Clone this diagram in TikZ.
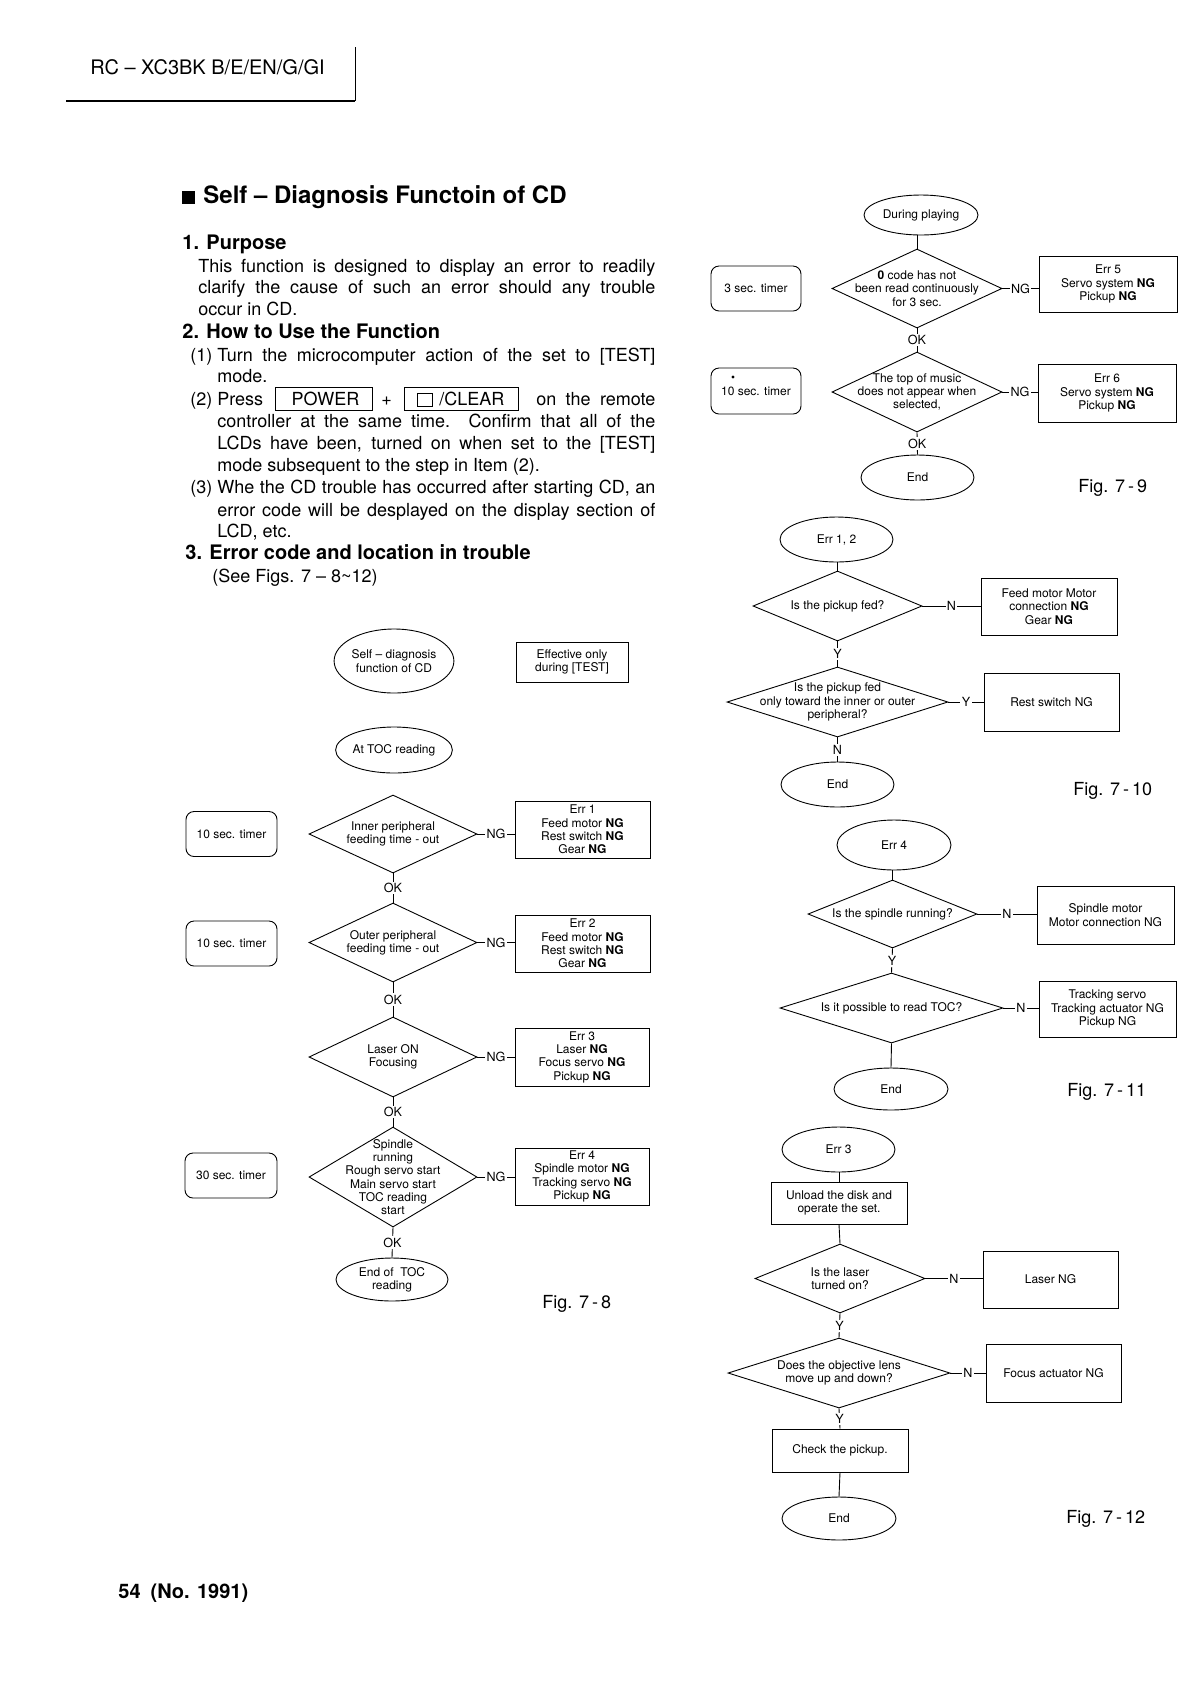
\documentclass[tikz,border=0pt]{standalone}
\usepackage{fontspec}
\setmainfont{TeX Gyre Heros}
\usetikzlibrary{shapes.geometric}
\tikzset{
 fc/.style={font=\fontsize{6}{6.65}\selectfont, align=center},
 box/.style={fc, draw, line width=0.45pt, inner sep=0.5pt},
 tbox/.style={box, rounded corners=4pt},
 oval/.style={fc, draw, ellipse, inner sep=0pt, line width=0.45pt},
 dia/.style={draw, diamond, inner sep=0pt, line width=0.45pt},
 dtxt/.style={fc, inner sep=0pt},
 lbl/.style={font=\fontsize{6.3}{7}\selectfont, fill=white, inner sep=0.7pt},
 conn/.style={line width=0.45pt},
 body/.style={font=\fontsize{9}{11}\selectfont, inner sep=0pt, anchor=base west},
 head/.style={font=\fontsize{10}{12}\selectfont\bfseries, inner sep=0pt, anchor=base west},
 figl/.style={font=\fontsize{9}{11}\selectfont, inner sep=0pt, anchor=base west},
 keybox/.style={draw, line width=0.5pt, inner sep=0pt},
}
\begin{document}
\begin{tikzpicture}[x=0.5pt,y=-0.5pt]
\useasboundingbox (0,0) rectangle (1191,1683);
% ---------- header ----------
\node[font=\fontsize{10}{12}\selectfont, inner sep=0pt, anchor=base west] (hdr) at (90,74) {RC – XC3BK B/E/EN/G/GI};
\coordinate (hl1) at (66,101);
\coordinate (hl2) at (355,101);
\coordinate (hv1) at (355,47);
\draw[line width=0.7pt] (hl1) -- (hl2);
\draw[line width=0.5pt] (hv1) -- (hl2);
% ---------- text ----------
\node[fill=black, minimum width=6.5pt, minimum height=6.5pt, inner sep=0pt] (sq) at (188.5,197) {};
\node[font=\fontsize{12}{14}\selectfont\bfseries, inner sep=0pt, anchor=base west] (title) at (203,203) {Self – Diagnosis Functoin of CD};
\node[head] (h1) at (182,249) {1. Purpose};
\node[body] (p1) at (198,272) {\makebox[228.5pt][s]{This function is designed to display an error to readily}};
\node[body] (p2) at (198,293.5) {\makebox[228.5pt][s]{clarify the cause of such an error should any trouble}};
\node[body] (p3) at (198,315) {occur in CD.};
\node[head] (h2) at (182,338) {2. How to Use the Function};
\node[body] (i1) at (190,361) {(1)};
\node[body] (i1a) at (217,361) {\makebox[219pt][s]{Turn the microcomputer action of the set to [TEST]}};
\node[body] (i1b) at (217,382) {mode.};
\node[body] (i2) at (190,405) {(2)};
\node[body] (i2a) at (217,405) {Press};
\node[keybox, minimum width=48.5pt, minimum height=11.5pt, font=\fontsize{9}{11}\selectfont] (kpow) at (323.5,398.5) {\hspace{2pt}POWER};
\node[body] (plus) at (381,405) {+};
\node[keybox, minimum width=57pt, minimum height=11.5pt] (kclr) at (461,398.5) {};
\node[keybox, minimum width=7.5pt, minimum height=6.5pt] (ksq) at (424.5,399.5) {};
\node[body] (clr) at (439,405) {/CLEAR};
\node[body] (i2b) at (536,405) {\makebox[59.5pt][s]{on the remote}};
\node[body] (i2c) at (217,427) {\makebox[219pt][s]{controller at the same time. Confirm that all of the}};
\node[body] (i2d) at (217,449) {\makebox[219pt][s]{LCDs have been, turned on when set to the [TEST]}};
\node[body] (i2e) at (217,471) {mode subsequent to the step in Item (2).};
\node[body] (i3) at (190,493) {(3)};
\node[body] (i3a) at (217,493) {\makebox[219pt][s]{Whe the CD trouble has occurred after starting CD, an}};
\node[body] (i3b) at (217,516) {\makebox[219pt][s]{error code will be desplayed on the display section of}};
\node[body] (i3c) at (217,537) {LCD, etc.};
\node[head] (h3) at (185,559) {3. Error code and location in trouble};
\node[body] (h3a) at (212,582) {(See Figs. 7 – 8\textasciitilde12)};
% ---------- Fig 7-8 ----------
\node[oval, minimum width=57pt, minimum height=32pt] (sd) at (394,661) {Self – diagnosis\\function of CD};
\node[box, minimum width=56pt, minimum height=20pt] (eff) at (572,662) {Effective only\\during [TEST]};
\node[oval, minimum width=57pt, minimum height=23pt] (toc) at (394,750) {At TOC reading};
\node[dia, minimum width=84pt, minimum height=39pt, label={[dtxt]center:{Inner peripheral\\feeding time - out}}] (d1) at (393,834) {};
\node[box, minimum width=67.5pt, minimum height=28.5pt] (e1) at (582.5,829.5) {Err 1\\Feed motor \textbf{NG}\\Rest switch \textbf{NG}\\Gear \textbf{NG}};
\node[tbox, minimum width=45.5pt, minimum height=22.5pt] (t1) at (231.5,834) {10 sec. timer};
\node[dia, minimum width=84pt, minimum height=39.5pt, label={[dtxt]center:{Outer peripheral\\feeding time - out}}] (d2) at (393,942.5) {};
\node[box, minimum width=67.5pt, minimum height=28.5pt] (e2) at (582.5,943.5) {Err 2\\Feed motor \textbf{NG}\\Rest switch \textbf{NG}\\Gear \textbf{NG}};
\node[tbox, minimum width=45.5pt, minimum height=22.5pt] (t2) at (231.5,943.5) {10 sec. timer};
\node[dia, minimum width=84pt, minimum height=40pt, label={[dtxt]center:{Laser ON\\Focusing}}] (d3) at (393,1057) {};
\node[box, minimum width=67pt, minimum height=29pt] (e3) at (582,1057) {Err 3\\Laser \textbf{NG}\\Focus servo \textbf{NG}\\Pickup \textbf{NG}};
\node[dia, minimum width=84pt, minimum height=50pt, label={[dtxt]center:{Spindle\\running\\Rough servo start\\Main servo start\\TOC reading\\start}}] (d4) at (393,1177) {};
\node[box, minimum width=67pt, minimum height=28.5pt] (e4) at (582,1176.5) {Err 4\\Spindle motor \textbf{NG}\\Tracking servo \textbf{NG}\\Pickup \textbf{NG}};
\node[tbox, minimum width=46pt, minimum height=22.5pt] (t3) at (231,1175.5) {30 sec. timer};
\node[oval, minimum width=56pt, minimum height=21.5pt] (end8) at (392,1279.5) {End of \ TOC\\reading};
\node[figl] (fig8) at (542,1308) {Fig. 7\,-\,8};
\draw[conn] (d1.south) -- node[lbl]{OK} (d2.north);
\draw[conn] (d2.south) -- node[lbl]{OK} (d3.north);
\draw[conn] (d3.south) -- node[lbl]{OK} (d4.north);
\draw[conn] (d4.south) -- node[lbl]{OK} (end8.north);
\draw[conn] (d1.east) -- node[lbl]{NG} (d1.east -| e1.west);
\draw[conn] (d2.east) -- node[lbl]{NG} (d2.east -| e2.west);
\draw[conn] (d3.east) -- node[lbl]{NG} (d3.east -| e3.west);
\draw[conn] (d4.east) -- node[lbl]{NG} (d4.east -| e4.west);
% ---------- Fig 7-9 ----------
\node[oval, minimum width=57pt, minimum height=20pt] (play) at (921,215) {During playing};
\node[dia, minimum width=85pt, minimum height=39.5pt, label={[dtxt]center:{\textbf{0} code has not\\been read continuously\\for 3 sec.}}] (d91) at (917,288.5) {};
\node[tbox, minimum width=45pt, minimum height=22.5pt] (tm91) at (756,288.5) {3 sec. timer};
\node[box, minimum width=69pt, minimum height=28pt] (e91) at (1108,284) {Err 5\\Servo system \textbf{NG}\\Pickup \textbf{NG}};
\node[dia, minimum width=85pt, minimum height=40pt, label={[dtxt]center:{The top of music\\does not appear when\\selected,}}] (d92) at (917,392) {};
\node[tbox, minimum width=45pt, minimum height=23pt] (tm92) at (756,391) {10 sec. timer};
\fill (733,377) circle[radius=0.8pt];
\node[box, minimum width=69pt, minimum height=29pt] (e92) at (1107,393) {Err 6\\Servo system \textbf{NG}\\Pickup \textbf{NG}};
\node[oval, minimum width=56.5pt, minimum height=22.5pt] (end9) at (917.5,477.5) {End};
\node[figl] (fig9) at (1078,492) {Fig. 7\,-\,9};
\draw[conn] (d91.north) -- (d91.north |- play.south);
\draw[conn] (d91.south) -- node[lbl]{OK} (d92.north);
\draw[conn] (d92.south) -- node[lbl]{OK} (end9.north);
\draw[conn] (d91.east) -- node[lbl]{NG} (d91.east -| e91.west);
\draw[conn] (d92.east) -- node[lbl]{NG} (d92.east -| e92.west);
% ---------- Fig 7-10 ----------
\node[oval, minimum width=56.5pt, minimum height=22.5pt] (e12) at (836.5,539.5) {Err 1, 2};
\node[dia, minimum width=84.5pt, minimum height=35pt, label={[dtxt]center:{Is the pickup fed?}}] (d101) at (837.5,606) {};
\node[box, minimum width=68pt, minimum height=28.5pt] (fb) at (1049,606.5) {Feed motor Motor\\connection \textbf{NG}\\Gear \textbf{NG}};
\node[dia, minimum width=110.5pt, minimum height=35pt, label={[dtxt]center:{Is the pickup fed\\only toward the inner or outer\\peripheral?}}] (d102) at (837.5,702) {};
\node[box, minimum width=67.5pt, minimum height=29pt] (rs) at (1051.5,702) {Rest switch NG};
\node[oval, minimum width=56.5pt, minimum height=22.5pt] (end10) at (837.5,784.5) {End};
\node[figl] (fig10) at (1073,795) {Fig. 7\,-\,10};
\draw[conn] (d101.north) -- (d101.north |- e12.south);
\draw[conn] (d101.south) -- node[lbl]{Y} (d102.north);
\draw[conn] (d102.south) -- node[lbl]{N} (end10.north);
\draw[conn] (d101.east) -- node[lbl]{N} (d101.east -| fb.west);
\draw[conn] (d102.east) -- node[lbl]{Y} (d102.east -| rs.west);
% ---------- Fig 7-11 ----------
\node[oval, minimum width=57pt, minimum height=25pt] (e4f) at (894,845) {Err 4};
\node[dia, minimum width=84.5pt, minimum height=34pt, label={[dtxt]center:{Is the spindle running?}}] (d111) at (892.5,914) {};
\node[box, minimum width=68.5pt, minimum height=29pt] (spm) at (1105.5,915) {Spindle motor\\Motor connection NG};
\node[dia, minimum width=111.5pt, minimum height=35pt, label={[dtxt]center:{Is it possible to read TOC?}}] (d112) at (891.5,1008) {};
\node[box, minimum width=68.5pt, minimum height=28pt] (trk) at (1107.5,1009) {Tracking servo\\Tracking actuator NG\\Pickup NG};
\node[oval, minimum width=57pt, minimum height=21pt] (end11) at (891,1089) {End};
\node[figl] (fig11) at (1067,1096) {Fig. 7\,-\,11};
\draw[conn] (d111.north) -- (d111.north |- e4f.south);
\draw[conn] (d111.south) -- node[lbl]{Y} (d112.north);
\draw[conn] (d112.south) -- (end11.north);
\draw[conn] (d111.east) -- node[lbl]{N} (d111.east -| spm.west);
\draw[conn] (d112.east) -- node[lbl]{N} (d112.east -| trk.west);
% ---------- Fig 7-12 ----------
\node[oval, minimum width=56.5pt, minimum height=22.5pt] (e3f) at (838.5,1149.5) {Err 3};
\node[box, minimum width=68pt, minimum height=21pt] (ul) at (839,1203) {Unload the disk and\\operate the set.};
\node[dia, minimum width=85pt, minimum height=34.5pt, label={[dtxt]center:{Is the laser\\turned on?}}] (d121) at (840,1278.5) {};
\node[box, minimum width=67.5pt, minimum height=28.5pt] (lng) at (1050.5,1279.5) {Laser NG};
\node[dia, minimum width=111pt, minimum height=35pt, label={[dtxt]center:{Does the objective lens\\move up and down?}}] (d122) at (839,1373) {};
\node[box, minimum width=67.5pt, minimum height=29pt] (fan) at (1053.5,1373) {Focus actuator NG};
\node[box, minimum width=68pt, minimum height=21.5pt] (ck) at (840,1450.5) {Check the pickup.};
\node[oval, minimum width=57pt, minimum height=21.5pt] (end12) at (839,1518.5) {End};
\node[figl] (fig12) at (1066,1523) {Fig. 7\,-\,12};
\draw[conn] (ul.north) -- (ul.north |- e3f.south);
\draw[conn] (ul.south) -- (d121.north);
\draw[conn] (d121.south) -- node[lbl]{Y} (d122.north);
\draw[conn] (d122.south) -- node[lbl]{Y} (ck.north);
\draw[conn] (ck.south) -- (end12.north);
\draw[conn] (d121.east) -- node[lbl]{N} (d121.east -| lng.west);
\draw[conn] (d122.east) -- node[lbl]{N} (d122.east -| fan.west);
% ---------- footer ----------
\node[head] (foot) at (118,1598) {54\hspace{5pt}(No. 1991)};
\end{tikzpicture}
\end{document}
